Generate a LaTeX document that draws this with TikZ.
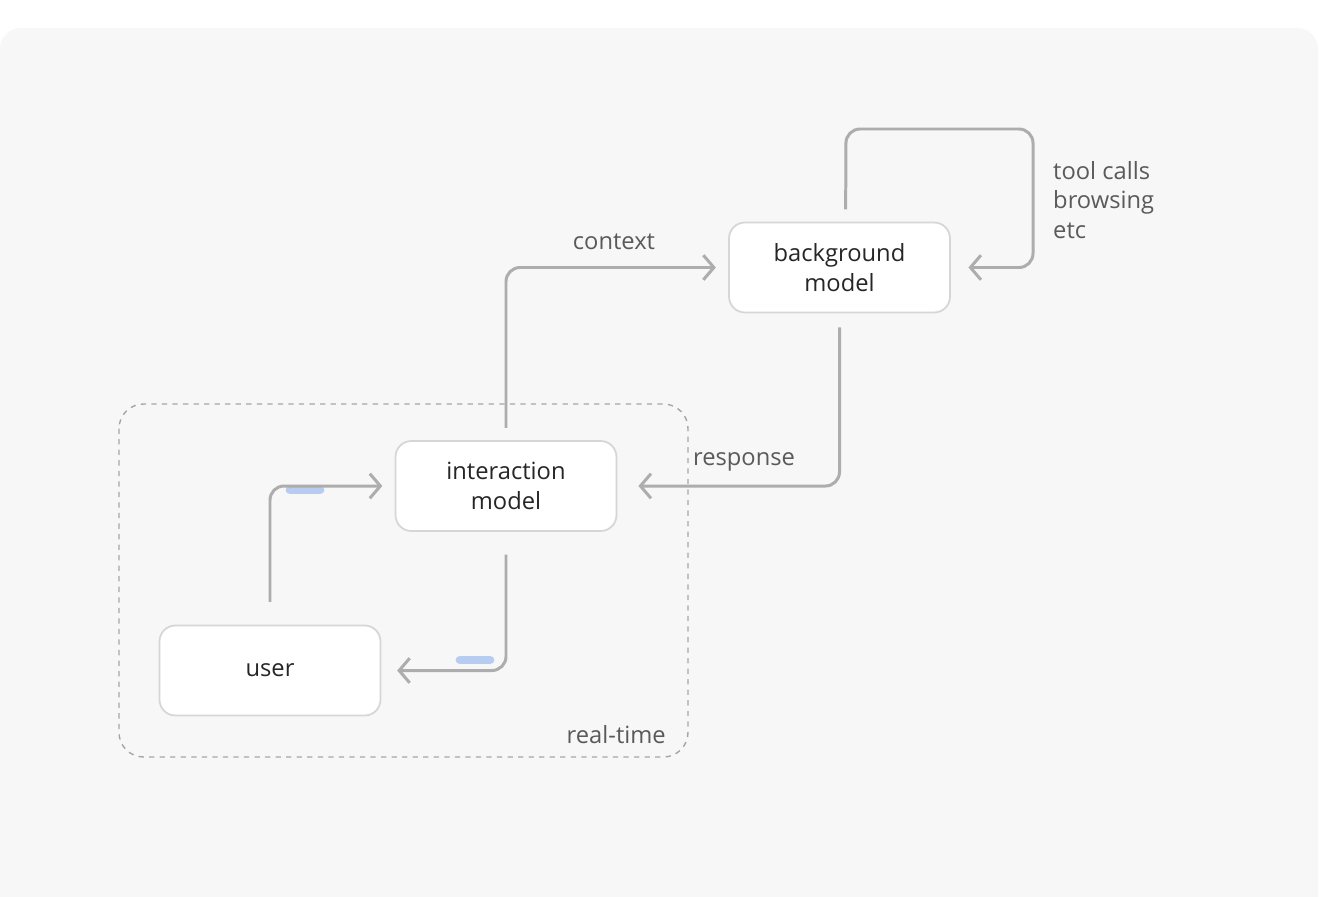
\documentclass[tikz,border=0pt]{standalone}
\usepackage{fontspec}
\setmainfont{Open Sans}
\usetikzlibrary{arrows.meta}
\definecolor{panel}{HTML}{F7F7F7}
\definecolor{edgegray}{HTML}{ADADAD}
\definecolor{boxline}{HTML}{D6D6D6}
\definecolor{labelgray}{HTML}{5A5A5A}
\definecolor{hilite}{HTML}{9DBBEF}
\begin{document}
\begin{tikzpicture}[x=0.02cm, y=-0.02cm]

\tikzstyle{block}=[rectangle, rounded corners=9pt, draw=boxline, line width=1pt, fill=white, minimum width=4.42cm, minimum height=1.8cm, align=center, text=black!85, font=\fontsize{13.5}{17}\selectfont]
\tikzstyle{label}=[text=labelgray, font=\fontsize{13.5}{17}\selectfont]
\tikzstyle{edge1}=[draw=edgegray, line width=1.7pt, rounded corners=8pt, -{Straight Barb[length=6pt, width=14pt, line width=1.7pt]}]
\tikzstyle{glow}=[draw=hilite, line width=5pt, opacity=0.7, line cap=round]

\useasboundingbox (0,0) rectangle (1332,896);
\fill[white] (0,0) rectangle (1332,896);
\fill[panel, rounded corners=12pt] (0,28) rectangle (1318,920);

\draw[gray!70, dashed, line width=0.8pt, rounded corners=14pt] (119,404) rectangle (688,757);
\node[label, anchor=south east] (rt) at (672,750) {real-time};

\node[block] (background) at (839.5,267.5) {background\\model};
\node[block] (interaction) at (506,486) {interaction\\model};
\node[block] (user) at (270,670.5) {user};

\coordinate (loop1) at (846,129);
\coordinate (loop2) at (1033,129);

\draw[glow] (290,490) -- (320,490);
\draw[glow] (460,660) -- (490,660);

\draw[edge1, shorten <=13pt, shorten >=7pt] (user.north) |- (interaction.west);
\draw[edge1, shorten <=13pt, shorten >=9pt] (interaction.south) |- (user.east);
\draw[edge1, shorten <=7pt, shorten >=7pt] (interaction.north) |- (background.west);
\draw[edge1, shorten <=8pt, shorten >=12pt] (background.south) |- (interaction.east);
\draw[edge1, shorten >=10pt] ([xshift=3.5pt, yshift=7pt]background.north) -- (loop1) -- (loop2) |- (background.east);

\node[label] (context) at (614,242) {context};
\node[label] (response) at (744,462) {response};
\node[label, anchor=west, align=left] (tools) at (1047,200) {tool calls\\browsing\\etc};

\end{tikzpicture}
\end{document}
